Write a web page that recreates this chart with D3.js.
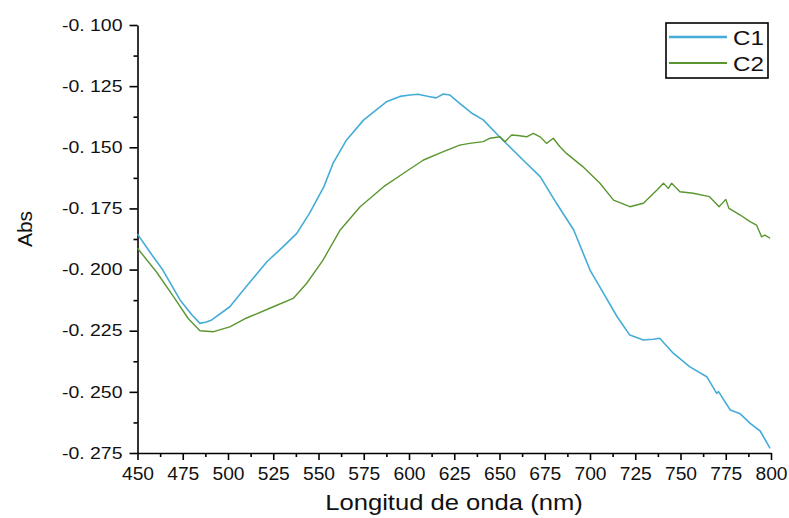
<!DOCTYPE html>
<html><head><meta charset="utf-8">
<script src="https://cdn.jsdelivr.net/npm/d3@7"></script>
<style>
body{margin:0;background:#fff;}
text{font-family:"Liberation Sans",Arial,sans-serif;fill:#111;}
</style></head>
<body><svg id="c" width="789" height="518"></svg>
<script>
const xTicks=[450,475,500,525,550,575,600,625,650,675,700,725,750,775,800];
const yTicks=[-0.275,-0.25,-0.225,-0.2,-0.175,-0.15,-0.125,-0.1];
const yTickLabels=["-0. 275","-0. 250","-0. 225","-0. 200","-0. 175","-0. 150","-0. 125","-0. 100"];
const seriesNames=["C1","C2"];
const c1Wl=[450,457,464,473.5,480,484.5,488,491,501,510,521.5,530.5,538,545,553,558,565.5,575,587.5,595,600.5,605,611.5,615,619,622.5,628,635,641,650,663,672.5,681.5,691,700,707.5,715,722,729.5,735,738.5,746,755,764.5,770,771,777.5,783,788.5,794,799.5];
const c1Abs=[-0.1855,-0.1930,-0.2002,-0.2124,-0.2185,-0.2220,-0.2214,-0.2206,-0.2152,-0.2070,-0.1968,-0.1906,-0.1852,-0.1770,-0.1661,-0.1566,-0.1470,-0.1388,-0.1314,-0.1292,-0.1286,-0.1283,-0.1293,-0.1298,-0.1282,-0.1286,-0.1320,-0.1362,-0.1388,-0.1457,-0.1552,-0.1620,-0.1729,-0.1838,-0.2002,-0.2097,-0.2193,-0.2268,-0.2288,-0.2285,-0.2281,-0.2342,-0.2397,-0.2438,-0.2506,-0.2499,-0.2574,-0.2590,-0.2629,-0.2660,-0.2731];
const c2Wl=[450,460.5,470,478,484.5,492,501,510,525,536,543.5,552.5,562,573,586,597,608,619,628,633.5,641,644.8,650.3,653,656.7,660,665,668.7,672.4,676,679.7,683.4,687,696,705.5,713,722,729.5,737,740.6,743.3,745.1,749.7,757,766,768.7,771.3,775,776.8,783,788.4,792,794.8,796.6,799.5];
const c2Abs=[-0.1913,-0.2010,-0.2112,-0.2200,-0.2250,-0.2254,-0.2234,-0.2199,-0.2152,-0.2118,-0.2056,-0.1961,-0.1838,-0.1743,-0.1661,-0.1606,-0.1552,-0.1518,-0.1491,-0.1484,-0.1477,-0.1463,-0.1457,-0.1477,-0.1450,-0.1452,-0.1457,-0.1443,-0.1457,-0.1484,-0.1463,-0.1498,-0.1525,-0.1579,-0.1647,-0.1716,-0.1743,-0.1729,-0.1675,-0.1647,-0.1668,-0.1647,-0.1682,-0.1688,-0.1702,-0.1723,-0.1743,-0.1713,-0.1750,-0.1777,-0.1804,-0.1818,-0.1866,-0.1859,-0.1872];
const colors=["#45acd8","#5a9630"];

const svg=d3.select("#c");
const x=d3.scaleLinear().domain([450,800]).range([137.5,771]);
const y=d3.scaleLinear().domain([-0.275,-0.1]).range([453,25]);

const xMinor=xTicks.slice(0,-1).map((d,i)=>(d+xTicks[i+1])/2);
const yMinor=yTicks.slice(0,-1).map((d,i)=>(d+yTicks[i+1])/2);

svg.append("g").attr("transform","translate(0,453)")
  .call(d3.axisBottom(x).tickValues(xMinor).tickSize(4).tickSizeOuter(0).tickFormat(""))
  .call(g=>g.select(".domain").remove());
svg.append("g").attr("transform","translate(137.5,0)")
  .call(d3.axisLeft(y).tickValues(yMinor).tickSize(4).tickSizeOuter(0).tickFormat(""))
  .call(g=>g.select(".domain").remove());

const gx=svg.append("g").attr("transform","translate(0,453)")
  .call(d3.axisBottom(x).tickValues(xTicks).tickSize(7).tickSizeOuter(0).tickPadding(8).tickFormat(d=>String(d)));
gx.selectAll("text").attr("class","st").attr("data-k","1.1").style("font-size","17.5px").attr("fill","#111");
const gy=svg.append("g").attr("transform","translate(137.5,0)")
  .call(d3.axisLeft(y).tickValues(yTicks).tickSize(8).tickSizeOuter(0).tickPadding(7).tickFormat((d,i)=>yTickLabels[i]));
gy.selectAll("text").attr("class","st").attr("data-k","1.18").style("font-size","16.5px").attr("fill","#111");
svg.selectAll(".domain,.tick line").attr("stroke","#000").attr("stroke-width",1.6);

const series=[c1Wl.map((w,i)=>[w,c1Abs[i]]),c2Wl.map((w,i)=>[w,c2Abs[i]])];
const line=d3.line().x(d=>x(d[0])).y(d=>y(d[1]));
series.forEach((s,i)=>{
  svg.append("path").datum(s).attr("d",line).attr("fill","none")
    .attr("stroke",colors[i]).attr("stroke-width",i===0?1.6:1.4).attr("stroke-linejoin","round");
});

svg.append("text").attr("class","st").attr("data-k","1.19").attr("x",454).attr("y",510).attr("text-anchor","middle")
  .style("font-size","21.5px").text("Longitud de onda (nm)");
svg.append("text").attr("transform","translate(32,229) rotate(-90)").attr("text-anchor","middle")
  .style("font-size","21px").text("Abs");

const lg=svg.append("g");
lg.append("rect").attr("x",666).attr("y",23).attr("width",102).attr("height",55)
  .attr("fill","#fff").attr("stroke","#000").attr("stroke-width",1.6);
seriesNames.forEach((n,i)=>{
  const yy=37+i*26;
  lg.append("line").attr("x1",669).attr("x2",727).attr("y1",yy).attr("y2",yy)
    .attr("stroke",colors[i]).attr("stroke-width",i===0?2.4:1.8);
  lg.append("text").attr("class","st").attr("data-k","1.15").attr("x",733).attr("y",yy+8).style("font-size","21px").text(n);
});

svg.selectAll("text.st").each(function(){
  const k=+this.getAttribute("data-k")||1.15;
  const L=this.getComputedTextLength();
  d3.select(this).attr("textLength",L*k).attr("lengthAdjust","spacingAndGlyphs");
});
</script></body></html>
